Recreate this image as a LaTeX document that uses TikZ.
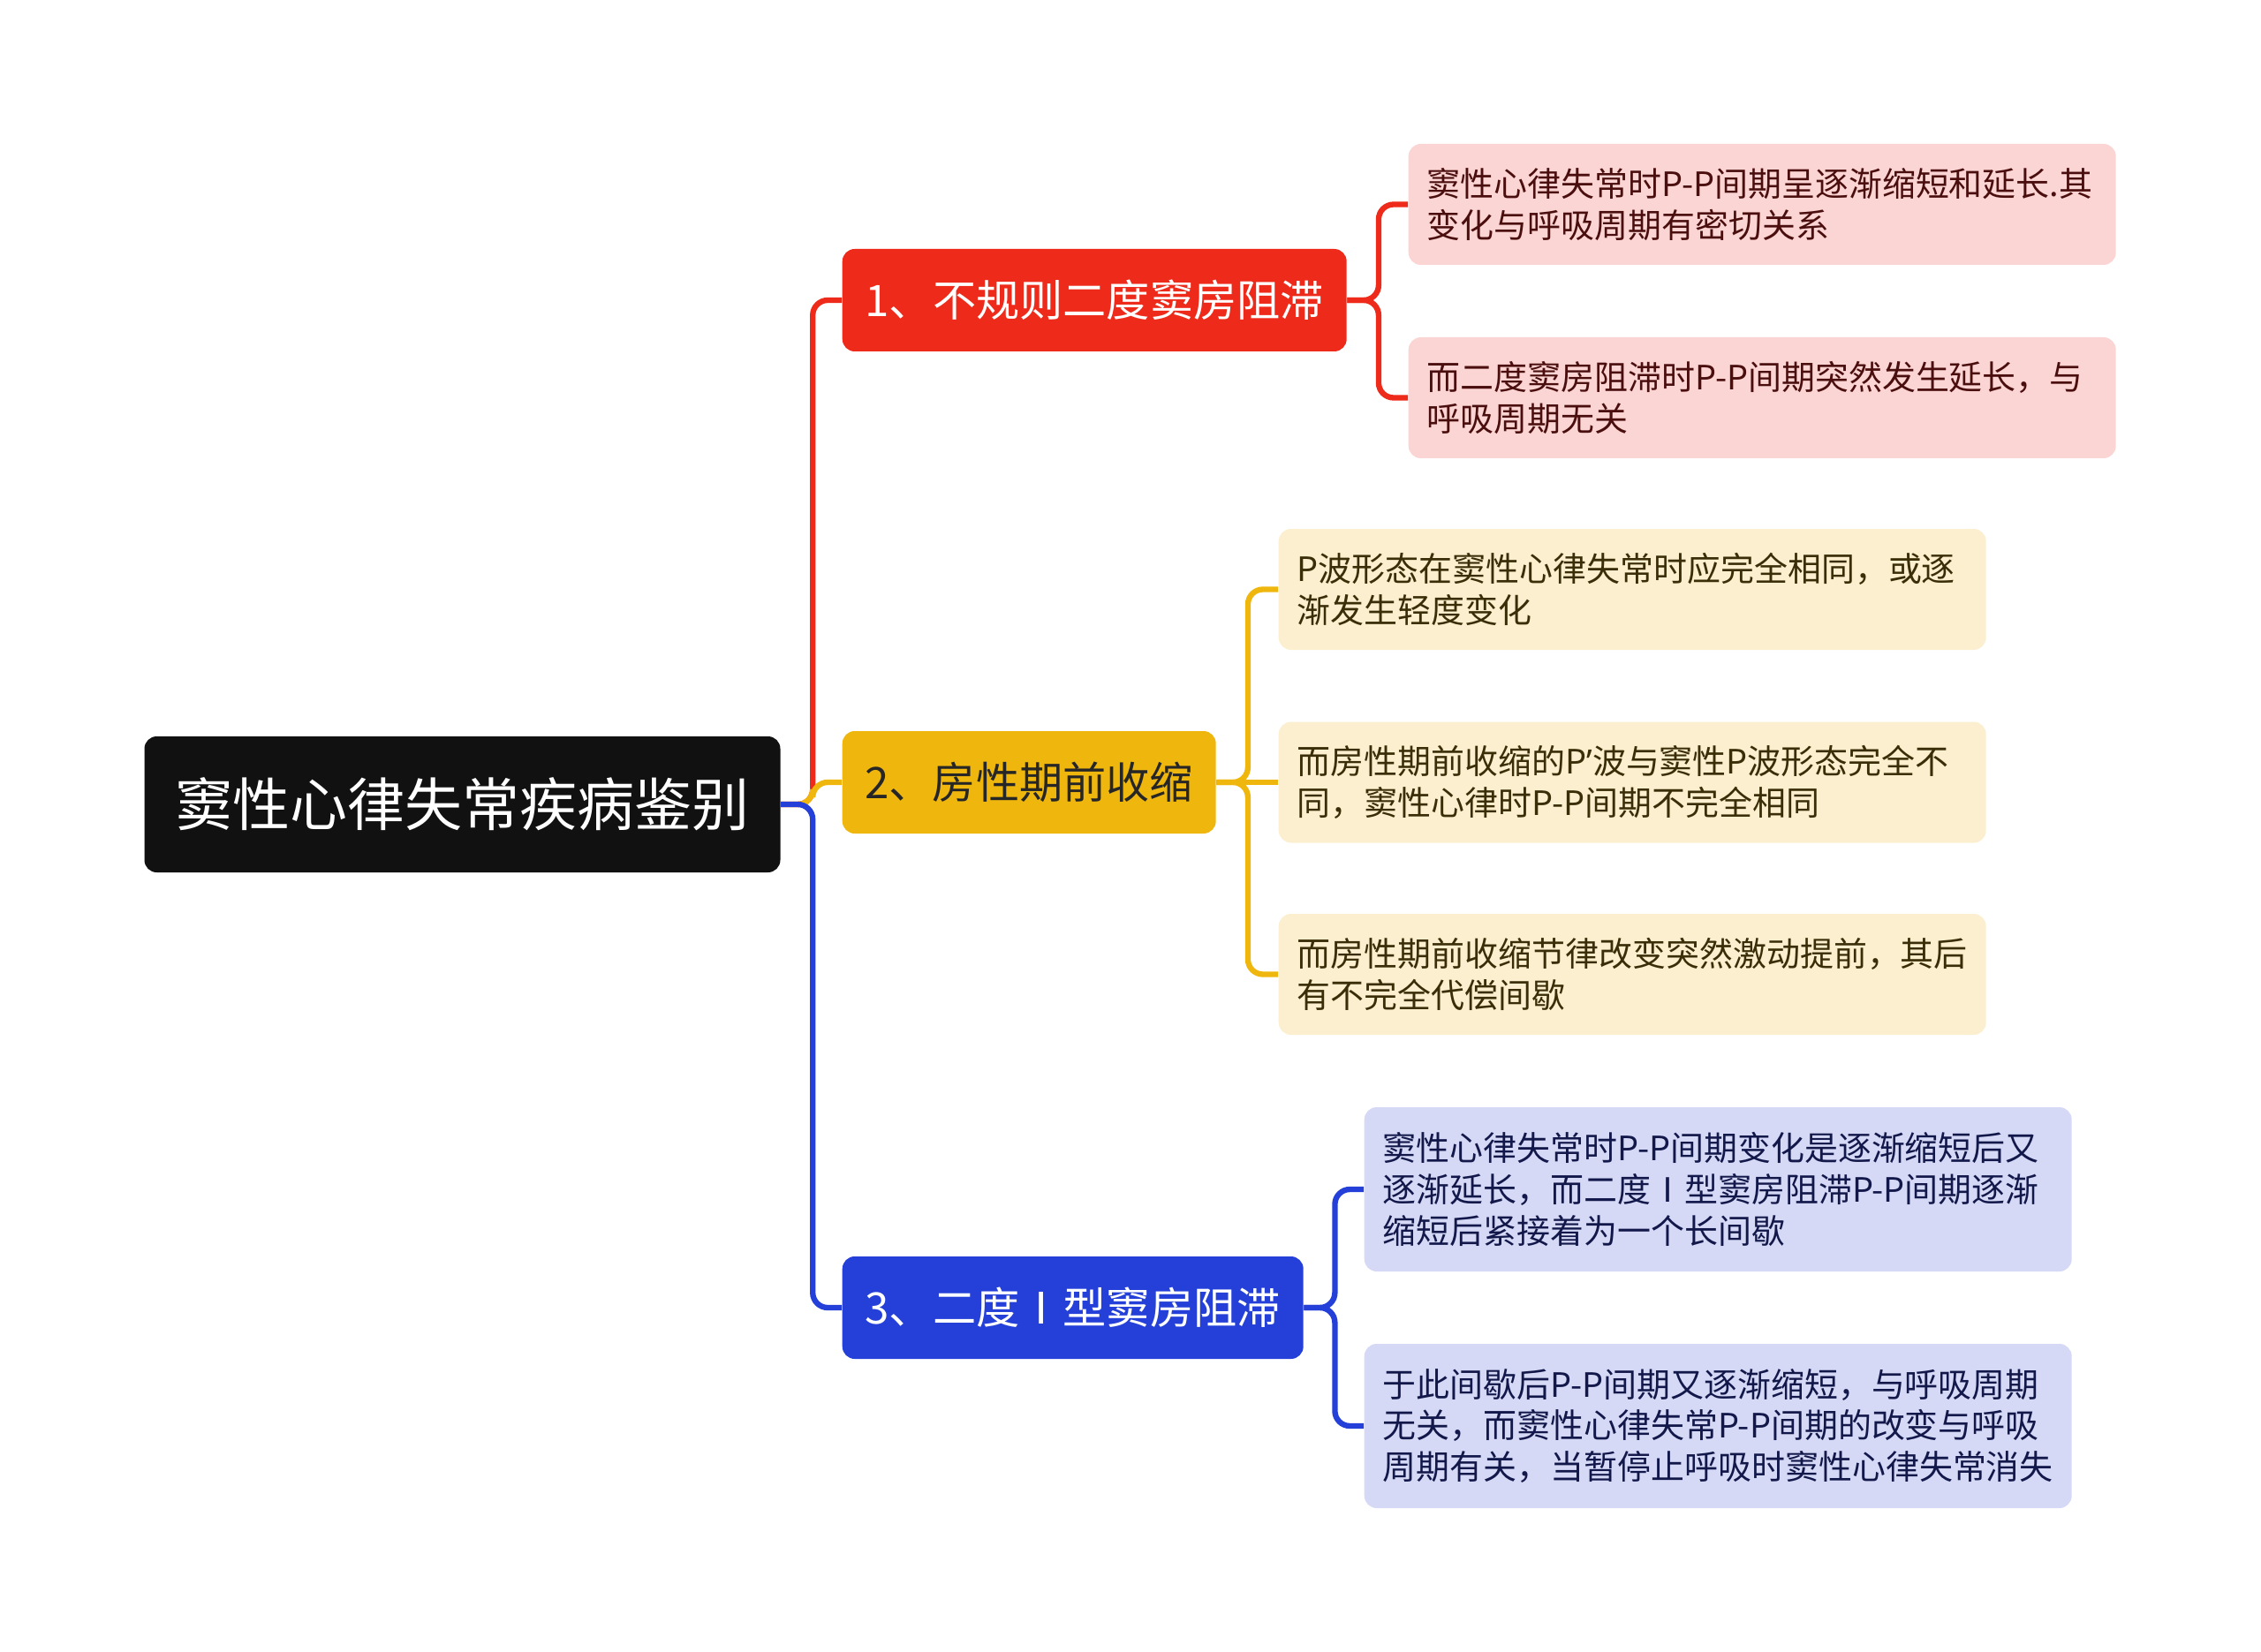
\documentclass[tikz,border=0pt]{standalone}
\usepackage{fontspec}
\newfontfamily\cjk{Noto Sans CJK SC}
\newfontfamily\lat{Noto Sans}
\usetikzlibrary{positioning}
\definecolor{rootc}{HTML}{111111}
\definecolor{redc}{HTML}{EE2A1A}
\definecolor{yelc}{HTML}{EFB70E}
\definecolor{bluc}{HTML}{2440D8}
\definecolor{redl}{HTML}{FBD5D3}
\definecolor{yell}{HTML}{FBEFCF}
\definecolor{blul}{HTML}{D6D9F6}
\definecolor{redt}{HTML}{4A0E0E}
\definecolor{yelt}{HTML}{3A2E08}
\definecolor{blut}{HTML}{12184A}
\begin{document}
\begin{tikzpicture}[font=\cjk]
\tikzstyle{topic}=[rounded corners=0.14cm,fill=rootc,text=white,minimum width=7.2cm,minimum height=1.54cm,font=\cjk\fontsize{18.5}{22}\selectfont]
\tikzstyle{br}=[rounded corners=0.14cm,anchor=west,minimum height=1.16cm,font=\cjk\fontsize{14}{17}\selectfont]
\tikzstyle{leaf}=[rounded corners=0.14cm,anchor=west,text width=7.59cm,inner xsep=0.21cm,align=left,font=\cjk\fontsize{10.8}{13.3}\selectfont]
\tikzstyle{ln}=[line width=1.8pt,rounded corners=0.17cm]
\useasboundingbox (0,0) rectangle (25.6,-18.71);
% centre topic
\node[topic] (root) at (5.235,-9.11) {窦性心律失常疾病鉴别};
% three branches
\node[br,fill=redc,text=white,minimum width=5.71cm] (b1) at (9.53,-3.40) {1、不规则二度窦房阻滞};
\node[br,fill=yelc,text=black!85,minimum width=4.23cm] (b2) at (9.53,-8.86) {2、房性期前收缩};
\node[br,fill=bluc,text=white,minimum width=5.22cm] (b3) at (9.53,-14.81) {3、二度Ⅰ型窦房阻滞};
% leaves
\node[leaf,fill=redl,text=redt,minimum height=1.37cm] (l11) at (15.94,-2.315) {窦性心律失常时P-P间期呈逐渐缩短和延长.其\\变化与呼吸周期有密切关系};
\node[leaf,fill=redl,text=redt,minimum height=1.37cm] (l12) at (15.94,-4.505) {而二度窦房阻滞时P-P间期突然发生延长，与\\呼吸周期无关};
\node[leaf,fill=yell,text=yelt,minimum height=1.37cm] (l21) at (14.47,-6.675) {P波形态在窦性心律失常时应完全相同，或逐\\渐发生轻度变化};
\node[leaf,fill=yell,text=yelt,minimum height=1.37cm] (l22) at (14.47,-8.86) {而房性期前收缩的P{\lat’}波与窦性P波形态完全不\\同，窦性心律时P-P间期不完全相同};
\node[leaf,fill=yell,text=yelt,minimum height=1.37cm] (l23) at (14.47,-11.035) {而房性期前收缩节律改变突然激动提前，其后\\有不完全代偿间歇};
\node[leaf,fill=blul,text=blut,minimum height=1.86cm] (l31) at (15.44,-13.47) {窦性心律失常时P-P间期变化是逐渐缩短后又\\逐渐延长，而二度Ⅰ型窦房阻滞P-P间期逐渐\\缩短后紧接着为一个长间歇};
\node[leaf,fill=blul,text=blut,minimum height=1.86cm] (l32) at (15.44,-16.15) {于此间歇后P-P间期又逐渐缩短，与呼吸周期\\无关，而窦性心律失常P-P间期的改变与呼吸\\周期有关，当暂停止呼吸时窦性心律失常消失};
% connectors
\draw[ln,redc] (root.east) -- ++(0.36,0) |- (b1.west);
\draw[ln,yelc] (root.east) -- ++(0.36,0) |- (b2.west);
\draw[ln,bluc] (root.east) -- ++(0.36,0) |- (b3.west);
\foreach \l in {l11,l12} \draw[ln,redc] (b1.east) -- ++(0.355,0) |- (\l.west);
\foreach \l in {l21,l23} \draw[ln,yelc] (b2.east) -- ++(0.355,0) |- (\l.west);
\draw[ln,yelc] (b2.east) -- (l22.west);
\foreach \l in {l31,l32} \draw[ln,bluc] (b3.east) -- ++(0.35,0) |- (\l.west);
\end{tikzpicture}
\end{document}
